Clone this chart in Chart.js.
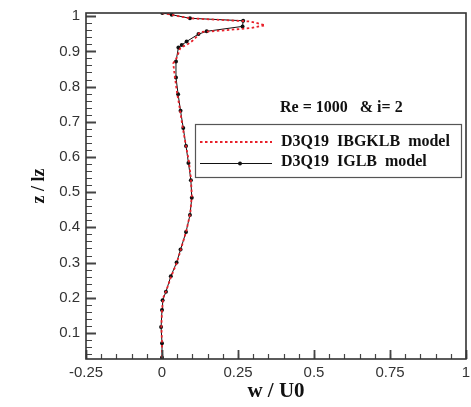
<!DOCTYPE html>
<html>
<head>
<meta charset="utf-8">
<script src="https://cdn.jsdelivr.net/npm/chart.js@4"></script>
<style>
  html, body { margin: 0; padding: 0; background: #fff; }
  #wrap { width: 471px; height: 407px; position: relative; }
</style>
</head>
<body>
<div id="wrap"><canvas id="profileChart"></canvas></div>
<script>
// IGLB model (black line with markers)
const iglbZ = [0.03, 0.071, 0.117, 0.165, 0.193, 0.217, 0.261, 0.30, 0.337, 0.387, 0.435, 0.484, 0.534, 0.583, 0.631, 0.682, 0.731, 0.778, 0.826, 0.871, 0.911, 0.918, 0.928, 0.949, 0.957, 0.971, 0.987, 0.994, 1.004, 1.009];
const iglbW = [0, 0, -0.003, 0, 0.002, 0.013, 0.029, 0.048, 0.061, 0.079, 0.092, 0.098, 0.095, 0.087, 0.079, 0.07, 0.061, 0.053, 0.046, 0.046, 0.054, 0.065, 0.081, 0.12, 0.147, 0.265, 0.267, 0.092, 0.032, 0.001];

// IBGKLB model (red dotted)
const ibgklbZ = [0.03, 0.07, 0.12, 0.165, 0.2, 0.22, 0.26, 0.3, 0.34, 0.39, 0.44, 0.49, 0.54, 0.59, 0.64, 0.69, 0.74, 0.78, 0.83, 0.866, 0.881, 0.911, 0.918, 0.93, 0.942, 0.955, 0.958, 0.966, 0.974, 0.981, 0.985, 0.994, 1.004, 1.009];
const ibgklbW = [0, 0, -0.002, 0, 0.004, 0.014, 0.03, 0.049, 0.063, 0.08, 0.093, 0.098, 0.095, 0.088, 0.077, 0.067, 0.058, 0.05, 0.042, 0.037, 0.048, 0.061, 0.081, 0.1, 0.114, 0.125, 0.18, 0.289, 0.339, 0.31, 0.289, 0.092, 0.03, 0];

const xTicks = [-0.25, 0, 0.25, 0.5, 0.75, 1];
const yTicks = [0.1, 0.2, 0.3, 0.4, 0.5, 0.6, 0.7, 0.8, 0.9, 1];
const xMinorStep = 0.05;
const yMinorStep = 0.02;

const seriesNames = ['D3Q19  IBGKLB  model', 'D3Q19  IGLB  model'];
const noteText = 'Re = 1000   & i= 2';

const toPoints = (ws, zs) => ws.map((w, i) => ({ x: w, y: zs[i] }));

const tickLabelFont = { family: 'Liberation Sans', size: 15 };

// inward ticks, plot frame, legend box and note
const framePlugin = {
  id: 'frame',
  afterDraw(chart) {
    const ctx = chart.ctx;
    const a = chart.chartArea;
    const xs = chart.scales.x;
    const ys = chart.scales.y;
    ctx.save();
    ctx.strokeStyle = '#444';
    ctx.lineWidth = 1.2;
    // minor ticks
    ctx.beginPath();
    for (let v = xs.min; v <= xs.max + 1e-9; v += xMinorStep) {
      const px = Math.round(xs.getPixelForValue(v)) + 0.5;
      ctx.moveTo(px, a.bottom);
      ctx.lineTo(px, a.bottom - 5);
    }
    for (let v = 0.04; v <= ys.max + 1e-9; v += yMinorStep) {
      const py = Math.round(ys.getPixelForValue(v)) + 0.5;
      ctx.moveTo(a.left, py);
      ctx.lineTo(a.left + 6, py);
    }
    ctx.stroke();
    // major ticks
    ctx.lineWidth = 1.8;
    ctx.beginPath();
    xTicks.forEach(v => {
      const px = Math.round(xs.getPixelForValue(v)) + 0.5;
      ctx.moveTo(px, a.bottom);
      ctx.lineTo(px, a.bottom - 9);
    });
    yTicks.forEach(v => {
      const py = Math.round(ys.getPixelForValue(v)) + 0.5;
      ctx.moveTo(a.left, py);
      ctx.lineTo(a.left + 10, py);
    });
    ctx.stroke();
    // frame
    ctx.strokeStyle = '#333';
    ctx.lineWidth = 1.6;
    ctx.strokeRect(a.left, a.top, a.right - a.left, a.bottom - a.top);

    // note
    ctx.fillStyle = '#111';
    ctx.font = 'bold 16px "Liberation Serif"';
    ctx.textBaseline = 'middle';
    ctx.textAlign = 'left';
    ctx.fillText(noteText, 280, 108);

    // legend box
    ctx.lineWidth = 1.2;
    ctx.strokeStyle = '#555';
    ctx.strokeRect(195.5, 124.5, 266, 53);
    // red dotted sample
    ctx.strokeStyle = '#e8202a';
    ctx.lineWidth = 1.8;
    ctx.setLineDash([2.5, 2.5]);
    ctx.beginPath();
    ctx.moveTo(200, 142);
    ctx.lineTo(272, 142);
    ctx.stroke();
    ctx.setLineDash([]);
    // black sample
    ctx.strokeStyle = '#111';
    ctx.lineWidth = 1;
    ctx.beginPath();
    ctx.moveTo(200, 163.5);
    ctx.lineTo(272, 163.5);
    ctx.stroke();
    ctx.fillStyle = '#111';
    ctx.beginPath();
    ctx.arc(240, 163.5, 2, 0, 2 * Math.PI);
    ctx.fill();
    ctx.fillText(seriesNames[0], 281, 142);
    ctx.fillText(seriesNames[1], 281, 162);
    ctx.restore();
  }
};

const chart = new Chart(document.getElementById('profileChart'), {
  type: 'scatter',
  data: {
    datasets: [
      {
        label: seriesNames[1],
        data: toPoints(iglbW, iglbZ),
        showLine: true,
        borderColor: '#111',
        borderWidth: 1,
        backgroundColor: '#111',
        pointRadius: 2,
        pointBorderWidth: 0,
        tension: 0,
        order: 2
      },
      {
        label: seriesNames[0],
        data: toPoints(ibgklbW, ibgklbZ),
        showLine: true,
        borderColor: '#e8202a',
        borderWidth: 1.8,
        borderDash: [2.5, 2.5],
        pointRadius: 0,
        tension: 0,
        order: 1
      }
    ]
  },
  options: {
    responsive: true,
    maintainAspectRatio: false,
    animation: false,
    layout: { padding: { top: 13, right: 5, left: 0, bottom: 0 } },
    plugins: {
      legend: { display: false },
      tooltip: { enabled: false }
    },
    scales: {
      x: {
        type: 'linear',
        min: -0.25,
        max: 1,
        afterBuildTicks: s => { s.ticks = xTicks.map(v => ({ value: v })); },
        afterFit: s => { s.height = 48; s.paddingRight = 0; s.paddingLeft = 0; },
        grid: { display: false, drawTicks: false },
        border: { display: false },
        ticks: { font: tickLabelFont, color: '#333', padding: 5, maxRotation: 0, callback: v => String(v) },
        title: { display: true, text: 'w / U0', font: { family: 'Liberation Serif', size: 21, weight: 'bold' }, color: '#111', padding: { top: 0, bottom: 3 } }
      },
      y: {
        type: 'linear',
        min: 0.026,
        max: 1.009,
        afterBuildTicks: s => { s.ticks = yTicks.map(v => ({ value: v })); },
        afterFit: s => { s.width = 86; s.paddingTop = 0; s.paddingBottom = 0; },
        grid: { display: false, drawTicks: false },
        border: { display: false },
        ticks: { font: tickLabelFont, color: '#333', padding: 6, callback: v => String(v) },
        title: { display: true, text: 'z / lz', font: { family: 'Liberation Serif', size: 18, weight: 'bold' }, color: '#111', padding: { top: 29, bottom: 0 } }
      }
    }
  },
  plugins: [framePlugin]
});
</script>
</body>
</html>
